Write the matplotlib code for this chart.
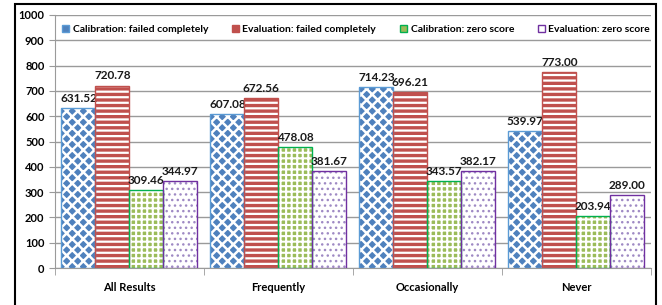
import numpy as np
import matplotlib
matplotlib.use("Agg")
import matplotlib.pyplot as plt
from matplotlib.patches import Rectangle

plt.rcParams['font.family'] = ['Lato', 'DejaVu Sans']

categories = ['All Results', 'Frequently', 'Occasionally', 'Never']
series_names = ['Calibration: failed completely', 'Evaluation: failed completely',
                'Calibration: zero score', 'Evaluation: zero score']
cal_failed = [631.52, 607.08, 714.23, 539.97]
eval_failed = [720.78, 672.56, 696.21, 773.00]
cal_zero = [309.46, 478.08, 343.57, 203.94]
eval_zero = [344.97, 381.67, 382.17, 289.00]
series = [cal_failed, eval_failed, cal_zero, eval_zero]

# face, hatch colour, outline, hatch pattern, hatch line width
styles = [
    ('#4F81BD', 'white', '#5B9BD5', 'xxx', 1.8),
    ('#C0504D', 'white', '#C0504D', '---', 1.6),
    ('#9BBB59', 'white', '#00B050', '+++', 1.5),
    ('white', '#9F8AC4', '#7030A0', '...', 1.0),
]

fig = plt.figure(figsize=(6.62, 3.05), dpi=100)
ax = fig.add_axes([0.083, 0.121, 0.9, 0.83])

x = np.arange(len(categories))
w = 0.228
offsets = (np.arange(4) - 1.5) * w

handles = []
for i, vals in enumerate(series):
    face, hcol, edge, hatch, hlw = styles[i]
    plt.rcParams['hatch.linewidth'] = hlw
    ax.bar(x + offsets[i], vals, w, facecolor=face, edgecolor=hcol,
           hatch=hatch, linewidth=0, zorder=2)
    ax.bar(x + offsets[i], vals, w, fill=False, edgecolor=edge, linewidth=1.0, zorder=3)
    handles.append(Rectangle((0, 0), 1, 1, facecolor=face, edgecolor=edge, linewidth=1.0))
    for xi, v in zip(x + offsets[i], vals):
        ax.annotate(f'{v:.2f}', (xi, v), xytext=(0, 3), textcoords='offset points',
                    ha='center', va='bottom', fontsize=8.5, fontweight='bold',
                    color='#1a1a1a')

ax.set_xlim(-0.5, 3.5)
ax.set_ylim(0, 1000)
ax.set_yticks(np.arange(0, 1001, 100))
ax.yaxis.grid(True, color='#9a9a9a', linewidth=1.0, zorder=0)
ax.set_axisbelow(True)
ax.set_xticks(x)
ax.set_xticklabels(categories, fontsize=8, fontweight='bold')
ax.set_xticks(np.arange(-0.5, 4, 1), minor=True)
ax.tick_params(axis='x', which='major', length=0, pad=10)
ax.tick_params(axis='x', which='minor', length=5, color='#9a9a9a')
ax.tick_params(axis='y', length=4, color='#9a9a9a', labelsize=8)
for lab in ax.get_yticklabels():
    lab.set_fontweight('bold')
for s in ['top', 'right']:
    ax.spines[s].set_visible(False)
ax.spines['bottom'].set_color('#9a9a9a')
ax.spines['left'].set_color('#9a9a9a')

ax.legend(handles, series_names, loc='upper left', bbox_to_anchor=(0.012, 0.96),
          ncol=4, frameon=False, prop={'size': 7.5, 'weight': 'bold'},
          handlelength=0.7, handleheight=0.7, handletextpad=0.3,
          columnspacing=2.3, borderaxespad=0, borderpad=0)

# outer chart frame
fig.patches.append(Rectangle((15 / 662, -0.1), (656 - 15) / 662, 1.1 - 4 / 305,
                             transform=fig.transFigure, fill=False,
                             edgecolor='black', linewidth=1.5))

fig.savefig('out.png', dpi=100)
